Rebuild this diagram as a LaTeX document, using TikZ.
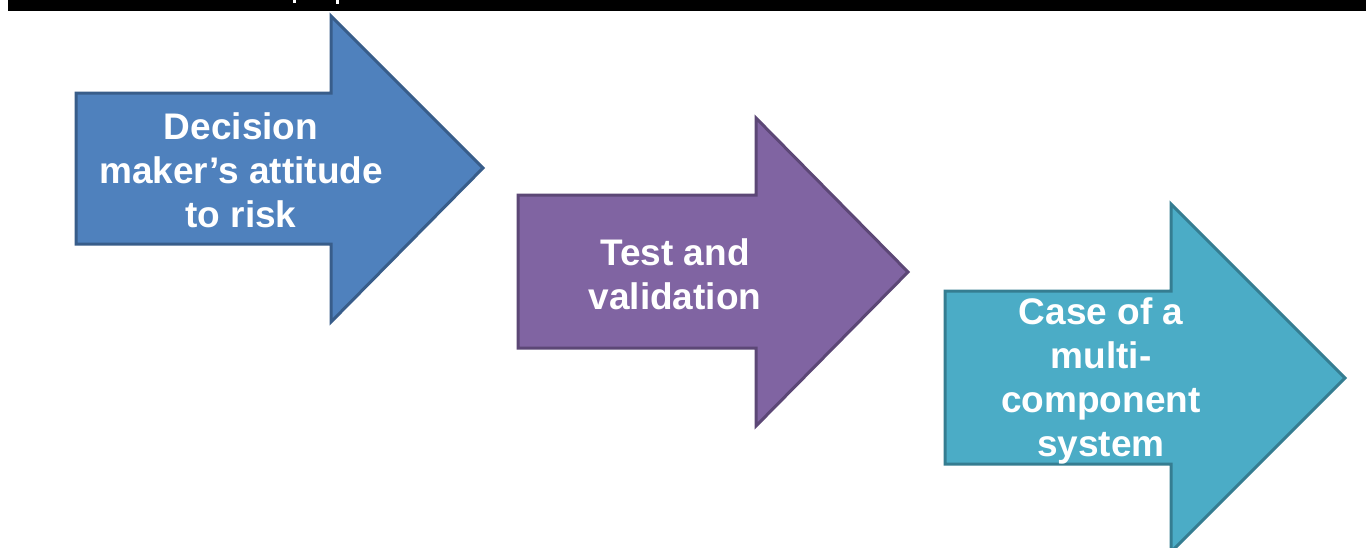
\documentclass[tikz,border=0pt]{standalone}
\usepackage{fontspec}
\setmainfont{Liberation Sans}
\definecolor{bluefill}{HTML}{4F81BD}
\definecolor{blueline}{HTML}{385D8A}
\definecolor{purpfill}{HTML}{8064A2}
\definecolor{purpline}{HTML}{5C4776}
\definecolor{tealfill}{HTML}{4BACC6}
\definecolor{tealline}{HTML}{357D91}
\tikzset{
  arrowshape/.style={line width=3pt, line join=miter},
  arrowtext/.style={text=white, align=center, font=\fontsize{37}{44}\selectfont\bfseries, inner sep=0pt}
}
\begin{document}
\begin{tikzpicture}[x=1pt,y=-1pt]
\useasboundingbox (0,0) rectangle (1366,547);
\clip (0,0) rectangle (1366,547);
\fill[white] (0,0) rectangle (1366,547);
% top bar
\fill[black] (8,0) rectangle (1366,11);
\fill[white] (293,0) rectangle (296,3);
\fill[white] (336,0) rectangle (339,4);
% arrow 1
\draw[arrowshape, fill=bluefill, draw=blueline]
  (76,93) -- (331,93) -- (331,16) -- (483,168) -- (331,322) -- (331,244) -- (76,244) -- cycle;
\node[arrowtext] (t1) at (241,170) {Decision\\maker’s attitude\\to risk};
% arrow 2
\draw[arrowshape, fill=purpfill, draw=purpline]
  (518,195) -- (756,195) -- (756,118) -- (908,272) -- (756,426) -- (756,348) -- (518,348) -- cycle;
\node[arrowtext] (t2) at (675,274) {Test and\\validation};
% arrow 3
\draw[arrowshape, fill=tealfill, draw=tealline]
  (945,291) -- (1171,291) -- (1171,204) -- (1345,378) -- (1171,552) -- (1171,464) -- (945,464) -- cycle;
\node[arrowtext] (t3) at (1101,381) {Case of a\\multi-\\component\\system};
\end{tikzpicture}
\end{document}
